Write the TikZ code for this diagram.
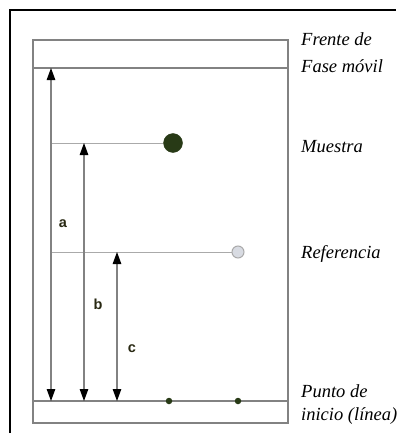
\documentclass[tikz,border=0pt]{standalone}
\usepackage{fontspec}
\setmainfont{Liberation Serif}
\newfontfamily\labelfont{Liberation Sans}
\definecolor{spotdark}{RGB}{40, 58, 22}
\definecolor{spotlight}{RGB}{216, 219, 226}
\definecolor{plategray}{RGB}{130, 130, 130}
\definecolor{guidegray}{RGB}{170, 170, 170}
\definecolor{labelink}{RGB}{40, 40, 18}
\usetikzlibrary{arrows.meta, positioning}
\tikzset{
    every node/.style={transform shape},
    plateline/.style={draw=plategray, line width=1.3pt},
    guideline/.style={draw=guidegray, line width=1pt},
    distarrow/.style={draw=plategray, line width=1.1pt,
        {Triangle[length=12pt, width=8.5pt, color=black]}-{Triangle[length=12pt, width=8.5pt, color=black]}},
    spot/.style={circle, inner sep=0pt},
    sidelabel/.style={anchor=base west, inner sep=0pt,
        font=\fontsize{18.5}{20}\selectfont\itshape},
    distlabel/.style={inner sep=0pt, text=labelink,
        font=\labelfont\bfseries\fontsize{14.5}{15}\selectfont},
}

\begin{document}
\begin{tikzpicture}[x=1pt, y=-1pt]
    \useasboundingbox (0, 0) rectangle (396, 436);
    \draw[line width=1.5pt] (10, 433) -- (10, 10) -- (396, 10);
    % placa
    \draw[plateline] (33, 40) rectangle (288, 423);
    \coordinate (front west) at (33, 68);
    \coordinate (front east) at (288, 68);
    \coordinate (start west) at (33, 401);
    \coordinate (start east) at (288, 401);
    \draw[plateline] (front west) -- (front east);
    \draw[plateline] (start west) -- (start east);
    % manchas
    \node[spot, fill=spotdark, draw=spotdark, minimum size=19pt] (muestra) at (173, 143) {};
    \node[spot, fill=spotlight, draw=guidegray, line width=1pt, minimum size=12pt] (referencia) at (238, 252) {};
    \foreach \x/\name in {169/siembra1, 238/siembra2}
        \node[spot, fill=spotdark, minimum size=6.5pt] (\name) at (\x, 401) {};
    % distancias
    \coordinate (a top) at (51, 68);
    \coordinate (a bot) at (51, 401);
    \coordinate (b top) at (84, 143);
    \coordinate (b bot) at (84, 401);
    \coordinate (c top) at (117, 252);
    \coordinate (c bot) at (117, 401);
    \coordinate (muestra line) at (51, 143);
    \coordinate (referencia line) at (51, 252);
    \draw[guideline] (muestra line) -- (muestra.west);
    \draw[guideline] (referencia line) -- (referencia.west);
    \draw[distarrow] (a bot) -- (a top);
    \draw[distarrow] (b bot) -- (b top);
    \draw[distarrow] (c bot) -- (c top);
    \node[distlabel] (a) at (63, 224) {a};
    \node[distlabel] (b) at (98, 304) {b};
    \node[distlabel] (c) at (132, 349) {c};
    % textos
    \node[sidelabel] (frente) at (301, 46) {Frente de};
    \node[sidelabel] (fase) at (301, 72) {Fase móvil};
    \node[sidelabel] (muestra text) at (301, 152) {Muestra};
    \node[sidelabel] (referencia text) at (301, 258) {Referencia};
    \node[sidelabel] (punto) at (301, 397) {Punto de};
    \node[sidelabel] (inicio) at (301, 420) {inicio (línea)};
\end{tikzpicture}
\end{document}
